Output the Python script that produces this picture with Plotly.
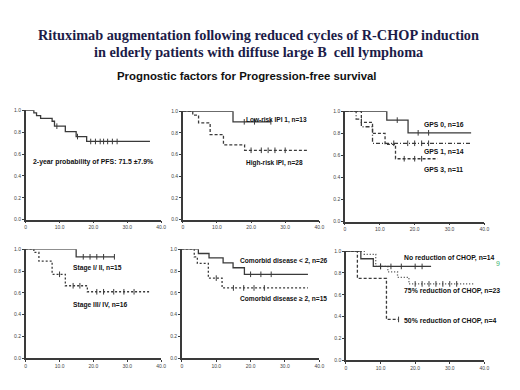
import plotly.graph_objects as go

W, H = 520, 390

# ---------------- data ----------------
x_ticks = [0, 10, 20, 30, 40]
x_ticktext = ["0", "10.0", "20.0", "30.0", "40.0"]
y_ticks = [0, 0.2, 0.4, 0.6, 0.8, 1.0]
y_ticktext = ["0.0", "0.2", "0.4", "0.6", "0.8", "1.0"]

pfs_t = [0, 2.4, 3.2, 4.4, 7.8, 8.5, 11.7, 14.9, 18.0, 36.7]
pfs_s = [1.0, 0.976, 0.952, 0.927, 0.90, 0.855, 0.805, 0.76, 0.715, 0.715]
pfs_c = [9.2, 15.3, 19.2, 20.6, 22.0, 23.0, 24.2, 25.6, 27.0]

ipi_low_t = [0, 14.7, 25.8]
ipi_low_s = [1.0, 0.903, 0.903]
ipi_low_c = [18.0, 21.0, 25.8]
ipi_high_t = [0, 2.9, 4.6, 8.0, 11.9, 18.1, 36.6]
ipi_high_s = [1.0, 0.964, 0.893, 0.785, 0.69, 0.64, 0.64]
ipi_high_c = [20.0, 23.0, 25.0, 27.0, 30.0]

gps0_t = [0, 12.0, 18.1, 36.2]
gps0_s = [1.0, 0.92, 0.805, 0.805]
gps0_c = [15.0, 21.0, 24.0]
gps1_t = [0, 3.2, 4.7, 7.9, 36.2]
gps1_s = [1.0, 0.93, 0.86, 0.71, 0.71]
gps1_c = [14.0, 18.0, 20.0, 22.0, 24.0]
gps3_t = [0, 4.7, 7.9, 11.5, 14.5, 26.6]
gps3_s = [1.0, 0.90, 0.80, 0.70, 0.57, 0.57]
gps3_c = [17.0, 20.0, 22.0]

st12_t = [0, 14.9, 26.2]
st12_s = [1.0, 0.93, 0.93]
st12_c = [17.0, 19.0, 21.0, 23.0, 26.2]
st34_t = [0, 2.4, 3.9, 7.8, 11.7, 18.2, 36.9]
st34_s = [1.0, 0.97, 0.89, 0.77, 0.665, 0.61, 0.61]
st34_c = [10.0, 14.0, 16.0, 21.0, 23.0, 26.0, 29.0, 32.0]

com_lo_t = [0, 4.8, 7.9, 12.0, 14.9, 18.2, 36.7]
com_lo_s = [1.0, 0.96, 0.92, 0.875, 0.83, 0.77, 0.77]
com_lo_c = [20.0, 23.0, 26.0]
com_hi_t = [0, 3.6, 4.5, 7.7, 11.7, 36.7]
com_hi_s = [1.0, 0.93, 0.87, 0.735, 0.645, 0.645]
com_hi_c = [10.0, 15.0, 18.0, 21.0, 24.0]

chop0_t = [0, 4.3, 7.9, 24.6]
chop0_s = [1.0, 0.93, 0.86, 0.86]
chop0_c = [10.0, 13.0, 16.0, 20.0, 22.0]
chop75_t = [0, 5.3, 8.6, 12.1, 14.9, 18.2, 37.0]
chop75_s = [1.0, 0.97, 0.86, 0.81, 0.76, 0.70, 0.70]
chop75_c = [10.0, 20.0, 22.0, 24.0, 26.0, 28.0, 30.0, 32.0]
chop50_t = [0, 3.3, 11.7, 15.2]
chop50_s = [1.0, 0.75, 0.375, 0.375]
chop50_c = [15.2]

title_lines = ["Rituximab augmentation following reduced cycles of R-CHOP induction",
               "in elderly patients with diffuse large B  cell lymphoma"]
subtitle = "Prognostic factors for Progression-free survival"

# ---------------- layout helpers ----------------
# panel pixel boxes: (x_left, x_right, y_top(1.0), y_bottom(0.0))
panels = [
    (25, 162, 109, 220),
    (184, 322, 110, 220),
    (348, 489, 110, 222),
    (25, 162, 250, 361),
    (183, 322, 250, 361),
    (349, 489, 252, 363),
]

LINE = "#3a3a3a"
fig = go.Figure()


def step_val(t, s, x):
    v = s[0]
    for ti, si in zip(t, s):
        if ti <= x:
            v = si
    return v


def add_curve(idx, t, s, c, dash):
    ax = "" if idx == 1 else str(idx)
    fig.add_trace(go.Scatter(
        x=t, y=s, mode="lines", line=dict(shape="hv", color=LINE, width=1.3, dash=dash),
        xaxis="x" + ax, yaxis="y" + ax, showlegend=False, cliponaxis=False, hoverinfo="skip"))
    fig.add_trace(go.Scatter(
        x=c, y=[step_val(t, s, v) for v in c], mode="markers",
        marker=dict(symbol="line-ns", size=4, line=dict(color=LINE, width=1)),
        xaxis="x" + ax, yaxis="y" + ax, showlegend=False, cliponaxis=False, hoverinfo="skip"))


add_curve(1, pfs_t, pfs_s, pfs_c, "solid")
add_curve(2, ipi_low_t, ipi_low_s, ipi_low_c, "solid")
add_curve(2, ipi_high_t, ipi_high_s, ipi_high_c, "3px,2px")
add_curve(3, gps0_t, gps0_s, gps0_c, "solid")
add_curve(3, gps1_t, gps1_s, gps1_c, "4px,2px,1px,2px")
add_curve(3, gps3_t, gps3_s, gps3_c, "3px,2px")
add_curve(4, st12_t, st12_s, st12_c, "solid")
add_curve(4, st34_t, st34_s, st34_c, "2px,2px")
add_curve(5, com_lo_t, com_lo_s, com_lo_c, "solid")
add_curve(5, com_hi_t, com_hi_s, com_hi_c, "2px,2px")
add_curve(6, chop0_t, chop0_s, chop0_c, "solid")
add_curve(6, chop75_t, chop75_s, chop75_c, "1px,2px")
add_curve(6, chop50_t, chop50_s, chop50_c, "3px,2px")

layout = dict(
    width=W, height=H, margin=dict(l=0, r=0, t=0, b=0),
    paper_bgcolor="white", plot_bgcolor="white", showlegend=False,
)
for i, (xl, xr, yt, yb) in enumerate(panels, start=1):
    ax = "" if i == 1 else str(i)
    layout["xaxis" + ax] = dict(
        domain=[xl / W, xr / W], range=[0, 40], anchor="y" + ax,
        tickvals=x_ticks, ticktext=x_ticktext, ticks="outside", ticklen=2, tickwidth=1,
        tickcolor=LINE, showline=True, linecolor=LINE, linewidth=1.5, showgrid=False,
        zeroline=False, tickfont=dict(size=5, color="#444", family="Arial"), fixedrange=True)
    layout["yaxis" + ax] = dict(
        domain=[1 - yb / H, 1 - yt / H], range=[0, 1.0], anchor="x" + ax,
        tickvals=y_ticks, ticktext=y_ticktext, ticks="outside", ticklen=2, tickwidth=1,
        tickcolor=LINE, showline=True, linecolor=LINE, linewidth=1.5, showgrid=False,
        zeroline=False, tickfont=dict(size=5, color="#444", family="Arial"), fixedrange=True)
fig.update_layout(**layout)


def lbl(text, px, py, size=6.8, xanchor="left", font=None, bold=True):
    f = font or dict(family="Liberation Sans, Arial", size=size, color="#111")
    fig.add_annotation(text=("<b>%s</b>" % text) if bold else text, x=px / W, y=1 - py / H,
                       xref="paper", yref="paper", xanchor=xanchor, yanchor="middle",
                       showarrow=False, font=f, borderpad=0)


serif = dict(family="Liberation Serif, Times New Roman, serif", size=14.3, color="#1c1c48")
lbl(title_lines[0], 260, 32, xanchor="center", font=serif)
lbl(title_lines[1], 260, 50, xanchor="center", font=serif)
lbl(subtitle, 249, 74, xanchor="center", font=dict(family="Liberation Sans, Arial", size=11.4, color="#111"))

lbl("2-year probability of PFS: 71.5 \u00b17.9%", 31, 161, 6.9)
lbl("Low-risk IPI 1, n=13", 247, 119, 6.5)
lbl("High-risk IPI, n=28", 247, 163, 6.5)
lbl("GPS 0, n=16", 427, 124, 6.8)
lbl("GPS 1, n=14", 427, 151, 6.8)
lbl("GPS 3, n=11", 427, 170, 6.8)
lbl("Stage I/ II, n=15", 72, 269, 6.7)
lbl("Stage III/ IV, n=16", 72, 307, 6.7)
lbl("Comorbid disease < 2, n=26", 241, 262, 6.6)
lbl("Comorbid disease \u2265 2, n=15", 241, 301, 6.6)
lbl("No reduction of CHOP, n=14", 407, 259, 6.8)
lbl("75% reduction of CHOP, n=23", 407, 293, 6.9)
lbl("50% reduction of CHOP, n=4", 407, 323, 6.9)
lbl("9", 503, 265, xanchor="center", font=dict(family="Arial", size=7, color="#3cb371"), bold=False)

fig.write_html("out.html", config={"displayModeBar": False},
               post_script="document.body.style.margin='0';")
